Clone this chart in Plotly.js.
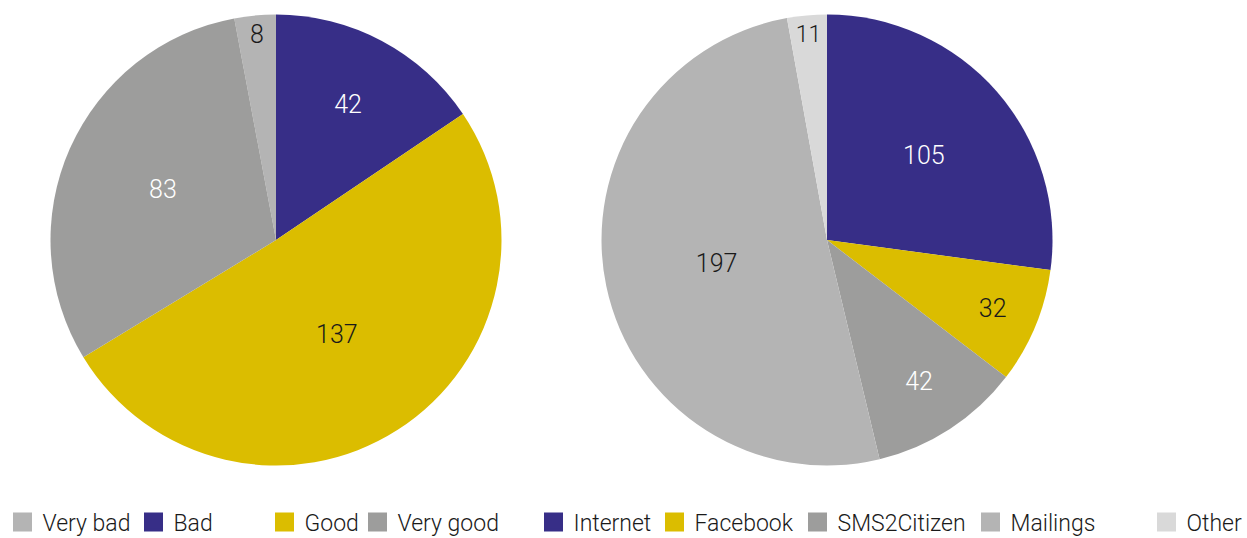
<!DOCTYPE html>
<html><head><meta charset="utf-8">
<script src="https://cdn.plot.ly/plotly-3.0.1.min.js"></script>
<style>html,body{margin:0;padding:0;background:#fff}#chart{width:1247px;height:538px}</style>
</head><body><div id="chart"></div>
<script>
// ---- data ----
const ratingLabels = ['Very bad', 'Bad', 'Good', 'Very good'];
const ratingValues = [8, 42, 137, 83];
const channelLabels = ['Internet', 'Facebook', 'SMS2Citizen', 'Mailings', 'Other'];
const channelValues = [105, 32, 42, 197, 11];

// ---- styles ----
const BLUE = '#372e87', YELLOW = '#dbbd00', GRAY = '#9d9d9c', LGRAY = '#b4b4b4', XLGRAY = '#d9d9d9';
const ratingColors = [LGRAY, BLUE, YELLOW, GRAY];
const ratingText = ['#1a1a1a', '#ffffff', '#1a1a1a', '#ffffff'];
const channelColors = [BLUE, YELLOW, GRAY, LGRAY, XLGRAY];
const channelText = ['#ffffff', '#1a1a1a', '#ffffff', '#1a1a1a', '#1a1a1a'];
const FONT = 'Roboto, "Liberation Sans", Arial, sans-serif';
const W = 1247, H = 538;

// legend square left edges (px)
const legendSquareLeft = [14, 145, 276, 369, 545, 666, 809, 982, 1158];

const ratingTotal = ratingValues.reduce((a, b) => a + b, 0);

const traces = [
  {
    type: 'pie', labels: ratingLabels, values: ratingValues, sort: false,
    direction: 'clockwise', rotation: -360 * ratingValues[0] / ratingTotal,
    marker: {colors: ratingColors, line: {width: 0}},
    textinfo: 'value', textposition: 'inside', insidetextorientation: 'horizontal',
    insidetextfont: {family: FONT, size: 25, color: ratingText, weight: 300},
    domain: {x: [50.5 / W, 501.5 / W], y: [72.5 / H, 523.5 / H]},
    showlegend: false, hoverinfo: 'label+value'
  },
  {
    type: 'pie', labels: channelLabels, values: channelValues, sort: false,
    direction: 'clockwise', rotation: 0,
    marker: {colors: channelColors, line: {width: 0}},
    textinfo: 'value', textposition: 'inside', insidetextorientation: 'horizontal',
    insidetextfont: {family: FONT, size: 25, color: channelText, weight: 300},
    domain: {x: [601.5 / W, 1052.5 / W], y: [72.5 / H, 523.5 / H]},
    showlegend: false, hoverinfo: 'label+value'
  }
];

const allLabels = ratingLabels.concat(channelLabels);
const allColors = ratingColors.concat(channelColors);
const layout = {
  width: W, height: H,
  margin: {l: 0, r: 0, t: 0, b: 0, autoexpand: false},
  paper_bgcolor: '#ffffff', plot_bgcolor: 'rgba(0,0,0,0)',
  xaxis: {visible: false}, yaxis: {visible: false},
  font: {family: FONT, color: '#1a1a1a'}
};
allLabels.forEach((lab, i) => {
  const key = i === 0 ? 'legend' : 'legend' + (i + 1);
  traces.push({
    type: 'scatter', mode: 'markers', x: [null], y: [null], name: lab,
    marker: {symbol: 'square', size: 16, color: allColors[i], line: {width: 3, color: allColors[i]}},
    legend: key, showlegend: true, hoverinfo: 'skip'
  });
  layout[key] = {
    x: (legendSquareLeft[i] - 11.5) / W, xanchor: 'left',
    y: 16 / H, yanchor: 'middle', orientation: 'h',
    bgcolor: 'rgba(0,0,0,0)', borderwidth: 0,
    font: {family: FONT, size: 23, color: '#1a1a1a', weight: 300}
  };
});

Plotly.newPlot('chart', traces, layout, {displayModeBar: false, staticPlot: true});
</script>
</body></html>
